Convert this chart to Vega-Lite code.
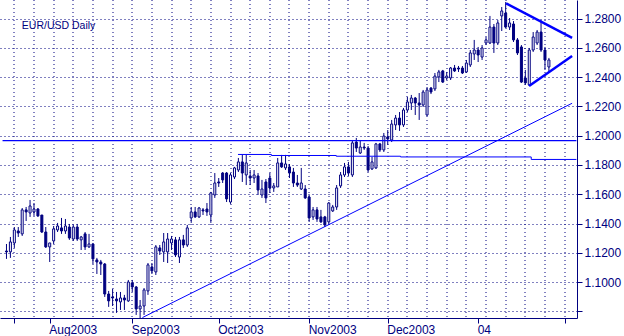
{
  "$schema": "https://vega.github.io/schema/vega-lite/v6.json",
  "width": 577,
  "height": 318,
  "autosize": "none",
  "padding": {"left": 0, "top": 0, "right": 47, "bottom": 18},
  "background": "white",
  "config": {"view": {"stroke": null}},
  "datasets": {
    "candles": [
      {"i":-11,"o":1.1212,"h":1.1260,"l":1.1158,"c":1.1206},
      {"i":-10,"o":1.1206,"h":1.1308,"l":1.1165,"c":1.1274},
      {"i":-9,"o":1.1267,"h":1.1376,"l":1.1233,"c":1.1356},
      {"i":-8,"o":1.1349,"h":1.1376,"l":1.1308,"c":1.1335},
      {"i":-7,"o":1.1329,"h":1.1506,"l":1.1315,"c":1.1493},
      {"i":-6,"o":1.1493,"h":1.1513,"l":1.1417,"c":1.1479},
      {"i":-5,"o":1.1472,"h":1.1561,"l":1.1445,"c":1.1520},
      {"i":-4,"o":1.1479,"h":1.1540,"l":1.1452,"c":1.1499},
      {"i":-3,"o":1.1499,"h":1.1506,"l":1.1445,"c":1.1452},
      {"i":-2,"o":1.1458,"h":1.1458,"l":1.1335,"c":1.1342},
      {"i":-1,"o":1.1342,"h":1.1376,"l":1.1233,"c":1.1240},
      {"i":0,"o":1.1240,"h":1.1267,"l":1.1137,"c":1.1267},
      {"i":1,"o":1.1281,"h":1.1383,"l":1.1260,"c":1.1363},
      {"i":2,"o":1.1356,"h":1.1404,"l":1.1342,"c":1.1383},
      {"i":3,"o":1.1370,"h":1.1438,"l":1.1329,"c":1.1349},
      {"i":4,"o":1.1349,"h":1.1431,"l":1.1329,"c":1.1383},
      {"i":5,"o":1.1376,"h":1.1397,"l":1.1288,"c":1.1301},
      {"i":6,"o":1.1294,"h":1.1390,"l":1.1281,"c":1.1376},
      {"i":7,"o":1.1376,"h":1.1397,"l":1.1281,"c":1.1294},
      {"i":8,"o":1.1288,"h":1.1315,"l":1.1219,"c":1.1308},
      {"i":9,"o":1.1329,"h":1.1342,"l":1.1219,"c":1.1240},
      {"i":10,"o":1.1240,"h":1.1329,"l":1.1233,"c":1.1260},
      {"i":11,"o":1.1260,"h":1.1267,"l":1.1123,"c":1.1158},
      {"i":12,"o":1.1151,"h":1.1165,"l":1.1055,"c":1.1137},
      {"i":13,"o":1.1137,"h":1.1151,"l":1.1048,"c":1.1123},
      {"i":14,"o":1.1123,"h":1.1130,"l":1.0898,"c":1.0918},
      {"i":15,"o":1.0918,"h":1.0939,"l":1.0830,"c":1.0871},
      {"i":16,"o":1.0898,"h":1.0953,"l":1.0836,"c":1.0891},
      {"i":17,"o":1.0884,"h":1.0932,"l":1.0789,"c":1.0871},
      {"i":18,"o":1.0864,"h":1.0932,"l":1.0809,"c":1.0891},
      {"i":19,"o":1.0891,"h":1.0912,"l":1.0809,"c":1.0877},
      {"i":20,"o":1.0871,"h":1.1014,"l":1.0864,"c":1.1000},
      {"i":21,"o":1.0994,"h":1.1014,"l":1.0932,"c":1.0966},
      {"i":22,"o":1.0966,"h":1.0973,"l":1.0775,"c":1.0816},
      {"i":23,"o":1.0816,"h":1.0877,"l":1.0754,"c":1.0836},
      {"i":24,"o":1.0836,"h":1.0959,"l":1.0775,"c":1.0946},
      {"i":25,"o":1.0939,"h":1.1130,"l":1.0912,"c":1.1117},
      {"i":26,"o":1.1103,"h":1.1130,"l":1.1055,"c":1.1076},
      {"i":27,"o":1.1069,"h":1.1253,"l":1.1048,"c":1.1240},
      {"i":28,"o":1.1233,"h":1.1253,"l":1.1185,"c":1.1212},
      {"i":29,"o":1.1206,"h":1.1335,"l":1.1137,"c":1.1274},
      {"i":30,"o":1.1206,"h":1.1335,"l":1.1130,"c":1.1294},
      {"i":31,"o":1.1267,"h":1.1315,"l":1.1219,"c":1.1294},
      {"i":32,"o":1.1288,"h":1.1308,"l":1.1171,"c":1.1185},
      {"i":33,"o":1.1171,"h":1.1308,"l":1.1130,"c":1.1288},
      {"i":34,"o":1.1288,"h":1.1322,"l":1.1233,"c":1.1253},
      {"i":35,"o":1.1253,"h":1.1390,"l":1.1240,"c":1.1370},
      {"i":36,"o":1.1438,"h":1.1513,"l":1.1404,"c":1.1479},
      {"i":37,"o":1.1479,"h":1.1513,"l":1.1438,"c":1.1445},
      {"i":38,"o":1.1445,"h":1.1513,"l":1.1438,"c":1.1506},
      {"i":39,"o":1.1493,"h":1.1506,"l":1.1458,"c":1.1486},
      {"i":40,"o":1.1499,"h":1.1540,"l":1.1452,"c":1.1479},
      {"i":41,"o":1.1458,"h":1.1616,"l":1.1404,"c":1.1609},
      {"i":42,"o":1.1595,"h":1.1745,"l":1.1575,"c":1.1677},
      {"i":43,"o":1.1684,"h":1.1711,"l":1.1650,"c":1.1677},
      {"i":44,"o":1.1745,"h":1.1752,"l":1.1677,"c":1.1698},
      {"i":45,"o":1.1745,"h":1.1752,"l":1.1547,"c":1.1568},
      {"i":46,"o":1.1547,"h":1.1745,"l":1.1534,"c":1.1732},
      {"i":47,"o":1.1718,"h":1.1787,"l":1.1704,"c":1.1780},
      {"i":48,"o":1.1766,"h":1.1848,"l":1.1752,"c":1.1821},
      {"i":49,"o":1.1821,"h":1.1869,"l":1.1684,"c":1.1745},
      {"i":50,"o":1.1732,"h":1.1869,"l":1.1663,"c":1.1814},
      {"i":51,"o":1.1725,"h":1.1766,"l":1.1663,"c":1.1711},
      {"i":52,"o":1.1711,"h":1.1766,"l":1.1677,"c":1.1732},
      {"i":53,"o":1.1725,"h":1.1745,"l":1.1595,"c":1.1629},
      {"i":54,"o":1.1595,"h":1.1698,"l":1.1575,"c":1.1636},
      {"i":55,"o":1.1684,"h":1.1704,"l":1.1540,"c":1.1575},
      {"i":56,"o":1.1711,"h":1.1745,"l":1.1609,"c":1.1643},
      {"i":57,"o":1.1643,"h":1.1677,"l":1.1616,"c":1.1657},
      {"i":58,"o":1.1650,"h":1.1848,"l":1.1650,"c":1.1814},
      {"i":59,"o":1.1814,"h":1.1869,"l":1.1780,"c":1.1787},
      {"i":60,"o":1.1780,"h":1.1869,"l":1.1766,"c":1.1807},
      {"i":61,"o":1.1787,"h":1.1807,"l":1.1711,"c":1.1745},
      {"i":62,"o":1.1752,"h":1.1780,"l":1.1650,"c":1.1677},
      {"i":63,"o":1.1677,"h":1.1732,"l":1.1650,"c":1.1663},
      {"i":64,"o":1.1636,"h":1.1780,"l":1.1629,"c":1.1677},
      {"i":65,"o":1.1636,"h":1.1663,"l":1.1568,"c":1.1575},
      {"i":66,"o":1.1581,"h":1.1595,"l":1.1411,"c":1.1438},
      {"i":67,"o":1.1445,"h":1.1513,"l":1.1424,"c":1.1493},
      {"i":68,"o":1.1493,"h":1.1513,"l":1.1411,"c":1.1431},
      {"i":69,"o":1.1445,"h":1.1493,"l":1.1404,"c":1.1411},
      {"i":70,"o":1.1445,"h":1.1452,"l":1.1376,"c":1.1390},
      {"i":71,"o":1.1411,"h":1.1547,"l":1.1390,"c":1.1540},
      {"i":72,"o":1.1486,"h":1.1527,"l":1.1479,"c":1.1513},
      {"i":73,"o":1.1513,"h":1.1663,"l":1.1493,"c":1.1643},
      {"i":74,"o":1.1657,"h":1.1752,"l":1.1643,"c":1.1732},
      {"i":75,"o":1.1732,"h":1.1814,"l":1.1718,"c":1.1787},
      {"i":76,"o":1.1787,"h":1.1821,"l":1.1725,"c":1.1745},
      {"i":77,"o":1.1732,"h":1.1971,"l":1.1718,"c":1.1951},
      {"i":78,"o":1.1957,"h":1.1985,"l":1.1889,"c":1.1916},
      {"i":79,"o":1.1882,"h":1.1971,"l":1.1875,"c":1.1923},
      {"i":80,"o":1.1923,"h":1.1951,"l":1.1903,"c":1.1916},
      {"i":81,"o":1.1916,"h":1.1930,"l":1.1752,"c":1.1766},
      {"i":82,"o":1.1773,"h":1.1855,"l":1.1766,"c":1.1821},
      {"i":83,"o":1.1780,"h":1.1951,"l":1.1773,"c":1.1944},
      {"i":84,"o":1.1944,"h":1.1951,"l":1.1889,"c":1.1903},
      {"i":85,"o":1.1903,"h":1.2019,"l":1.1889,"c":1.1998},
      {"i":86,"o":1.1992,"h":1.2039,"l":1.1937,"c":1.1978},
      {"i":87,"o":1.1971,"h":1.2108,"l":1.1957,"c":1.2080},
      {"i":88,"o":1.2074,"h":1.2142,"l":1.2039,"c":1.2121},
      {"i":89,"o":1.2121,"h":1.2162,"l":1.2033,"c":1.2074},
      {"i":90,"o":1.2074,"h":1.2190,"l":1.2060,"c":1.2176},
      {"i":91,"o":1.2176,"h":1.2265,"l":1.2162,"c":1.2231},
      {"i":92,"o":1.2224,"h":1.2279,"l":1.2176,"c":1.2258},
      {"i":93,"o":1.2258,"h":1.2265,"l":1.2142,"c":1.2224},
      {"i":94,"o":1.2224,"h":1.2292,"l":1.2108,"c":1.2210},
      {"i":95,"o":1.2210,"h":1.2313,"l":1.2197,"c":1.2299},
      {"i":96,"o":1.2142,"h":1.2333,"l":1.2135,"c":1.2313},
      {"i":97,"o":1.2326,"h":1.2333,"l":1.2285,"c":1.2299},
      {"i":98,"o":1.2320,"h":1.2429,"l":1.2306,"c":1.2408},
      {"i":99,"o":1.2402,"h":1.2450,"l":1.2367,"c":1.2436},
      {"i":100,"o":1.2443,"h":1.2450,"l":1.2361,"c":1.2367},
      {"i":101,"o":1.2395,"h":1.2436,"l":1.2381,"c":1.2408},
      {"i":102,"o":1.2395,"h":1.2470,"l":1.2381,"c":1.2463},
      {"i":103,"o":1.2463,"h":1.2484,"l":1.2436,"c":1.2443},
      {"i":104,"o":1.2463,"h":1.2477,"l":1.2436,"c":1.2456},
      {"i":105,"o":1.2463,"h":1.2477,"l":1.2422,"c":1.2429},
      {"i":106,"o":1.2436,"h":1.2518,"l":1.2429,"c":1.2497},
      {"i":107,"o":1.2484,"h":1.2586,"l":1.2470,"c":1.2566},
      {"i":108,"o":1.2559,"h":1.2655,"l":1.2518,"c":1.2586},
      {"i":109,"o":1.2586,"h":1.2607,"l":1.2504,"c":1.2552},
      {"i":110,"o":1.2538,"h":1.2620,"l":1.2518,"c":1.2600},
      {"i":111,"o":1.2634,"h":1.2675,"l":1.2620,"c":1.2655},
      {"i":112,"o":1.2634,"h":1.2819,"l":1.2627,"c":1.2743},
      {"i":113,"o":1.2743,"h":1.2764,"l":1.2566,"c":1.2634},
      {"i":114,"o":1.2634,"h":1.2791,"l":1.2620,"c":1.2771},
      {"i":115,"o":1.2819,"h":1.2880,"l":1.2716,"c":1.2853},
      {"i":116,"o":1.2839,"h":1.2914,"l":1.2737,"c":1.2743},
      {"i":117,"o":1.2743,"h":1.2805,"l":1.2723,"c":1.2771},
      {"i":118,"o":1.2764,"h":1.2784,"l":1.2641,"c":1.2655},
      {"i":119,"o":1.2655,"h":1.2668,"l":1.2552,"c":1.2566},
      {"i":120,"o":1.2607,"h":1.2620,"l":1.2361,"c":1.2367},
      {"i":121,"o":1.2395,"h":1.2450,"l":1.2347,"c":1.2361},
      {"i":122,"o":1.2347,"h":1.2600,"l":1.2340,"c":1.2586},
      {"i":123,"o":1.2586,"h":1.2709,"l":1.2573,"c":1.2675},
      {"i":124,"o":1.2634,"h":1.2723,"l":1.2620,"c":1.2709},
      {"i":125,"o":1.2709,"h":1.2791,"l":1.2573,"c":1.2586},
      {"i":126,"o":1.2586,"h":1.2607,"l":1.2450,"c":1.2518},
      {"i":127,"o":1.2470,"h":1.2532,"l":1.2436,"c":1.2518}
    ],
    "hline": [{"i":-12,"price":1.1966},{"i":134,"price":1.1966}],
    "step": [{"i":47.9,"price":1.1872},{"i":56.4,"price":1.1865},{"i":72.9,"price":1.1860},{"i":89.25,"price":1.1855},{"i":122.5,"price":1.1838},{"i":134,"price":1.1838}],
    "trend": [{"i":23.6,"price":1.0757},{"i":132.9,"price":1.2222}],
    "triU": [{"i":116.1,"price":1.2905},{"i":132.9,"price":1.2669}],
    "triL": [{"i":121.95,"price":1.2340},{"i":132.9,"price":1.2545}],
    "label": [{"text":"EUR/USD Daily"}]
  },
  "resolve": {"axis": {"x": "independent", "y": "independent"}},
  "layer": [
    {
      "data": {"name": "candles"},
      "mark": {"type": "rule", "color": "#000080", "strokeWidth": 1},
      "encoding": {
        "x": {"field": "i", "type": "quantitative", "scale": {"domain": [-11.375, 132.875], "nice": false, "zero": false},
          "axis": {"orient": "bottom", "values": [-9,-4,1,6,11,16,21,26,31,36,41,46,51,56,61,66,71,76,81,86,91,96,101,106,111,116,121,126,131], "grid": true, "gridColor": "#000080", "gridDash": [1,3], "gridWidth": 1, "gridOpacity": 1, "labels": false, "ticks": false, "domain": false, "title": null, "translate": 0}},
        "y": {"field": "l", "type": "quantitative", "scale": {"domain": [1.0754, 1.2928], "nice": false, "zero": false},
          "axis": {"orient": "right", "values": [1.08,1.1,1.12,1.14,1.16,1.18,1.2,1.22,1.24,1.26,1.28], "labelExpr": "datum.value < 1.09 ? '' : format(datum.value, '.4f')", "grid": true, "gridColor": "#000080", "gridDash": [1,3], "gridWidth": 1, "gridOpacity": 1, "domain": true, "domainColor": "#000080", "domainWidth": 1, "ticks": true, "tickColor": "#000080", "tickSize": 5, "tickWidth": 1, "labels": true, "labelColor": "#000080", "labelFont": "Liberation Sans", "labelFontSize": 12, "labelPadding": 2, "labelAlign": "left", "labelBaseline": "middle", "labelOverlap": false, "labelFlush": false, "title": null}},
        "y2": {"field": "h"}
      }
    },
    {
      "data": {"name": "candles"},
      "mark": {"type": "bar", "size": 2, "strokeWidth": 1, "orient": "vertical"},
      "encoding": {
        "x": {"field": "i", "type": "quantitative",
          "axis": {"orient": "bottom", "values": [-9,0,21,43,66,86,109,131], "labelExpr": "datum.value == 0 ? 'Aug2003' : datum.value == 21 ? 'Sep2003' : datum.value == 43 ? 'Oct2003' : datum.value == 66 ? 'Nov2003' : datum.value == 86 ? 'Dec2003' : datum.value == 109 ? '04' : ''", "grid": false, "domainColor": "#000080", "domainWidth": 1, "tickColor": "#000080", "tickSize": 5, "tickWidth": 1, "labelColor": "#000080", "labelFont": "Liberation Sans", "labelFontSize": 12, "labelAlign": "left", "labelBaseline": "alphabetic", "labelPadding": 10, "labelOffset": -1, "labelOverlap": false, "labelFlush": false, "title": null}},
        "y": {"field": "o", "type": "quantitative", "axis": null},
        "y2": {"field": "c"},
        "fill": {"condition": {"test": "datum.c > datum.o", "value": "#ffffff"}, "value": "#000080"},
        "stroke": {"value": "#000080"}
      }
    },
    {
      "data": {"name": "hline"},
      "mark": {"type": "line", "color": "#0000ff", "strokeWidth": 1.2, "clip": true},
      "encoding": {
        "x": {"field": "i", "type": "quantitative", "axis": null},
        "y": {"field": "price", "type": "quantitative", "axis": null}
      }
    },
    {
      "data": {"name": "step"},
      "mark": {"type": "line", "color": "#0000ff", "strokeWidth": 1, "interpolate": "step-after", "clip": true},
      "encoding": {
        "x": {"field": "i", "type": "quantitative", "axis": null},
        "y": {"field": "price", "type": "quantitative", "axis": null}
      }
    },
    {
      "data": {"name": "trend"},
      "mark": {"type": "line", "color": "#0000ff", "strokeWidth": 1, "clip": true},
      "encoding": {
        "x": {"field": "i", "type": "quantitative", "axis": null},
        "y": {"field": "price", "type": "quantitative", "axis": null}
      }
    },
    {
      "data": {"name": "triU"},
      "mark": {"type": "line", "color": "#0000ff", "strokeWidth": 2.5, "clip": true},
      "encoding": {
        "x": {"field": "i", "type": "quantitative", "axis": null},
        "y": {"field": "price", "type": "quantitative", "axis": null}
      }
    },
    {
      "data": {"name": "triL"},
      "mark": {"type": "line", "color": "#0000ff", "strokeWidth": 2.5, "clip": true},
      "encoding": {
        "x": {"field": "i", "type": "quantitative", "axis": null},
        "y": {"field": "price", "type": "quantitative", "axis": null}
      }
    },
    {
      "data": {"name": "label"},
      "mark": {"type": "text", "align": "left", "baseline": "alphabetic", "font": "Liberation Sans", "fontSize": 10.5, "color": "#000080"},
      "encoding": {
        "x": {"datum": -7.1, "type": "quantitative", "axis": null},
        "y": {"datum": 1.2730, "type": "quantitative", "axis": null},
        "text": {"field": "text"}
      }
    }
  ]
}
